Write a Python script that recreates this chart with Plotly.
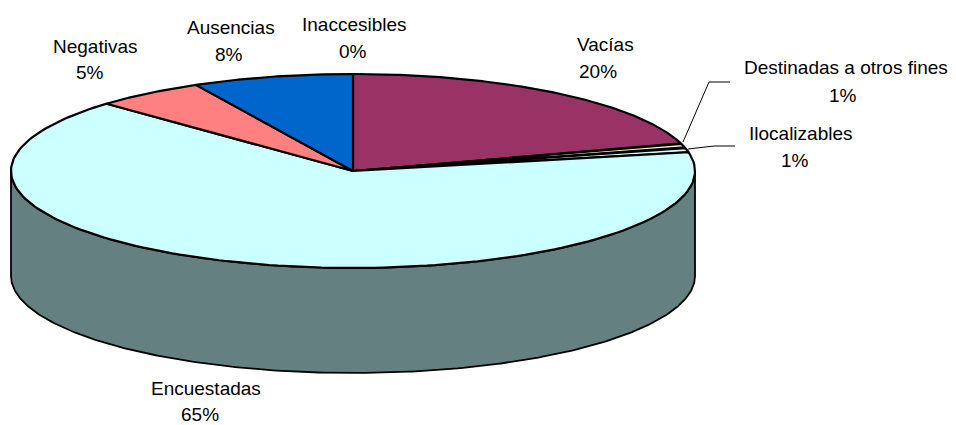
import numpy as np
import plotly.graph_objects as go

categories = ["Vacías", "Destinadas a otros fines", "Ilocalizables", "Encuestadas",
              "Negativas", "Ausencias", "Inaccesibles"]
values = [20.4, 0.7, 0.8, 65.3, 5.2, 7.6, 0.0]
colors = ["#993366", "#FFFFCC", "#CCFFFF", "#CCFFFF", "#FF8080", "#0066CC", "#FFFFFF"]
side_color = "#658080"

# label centres (pixel frame): name line, then percent line
name_pos = [(605, 44), (846, 67), (801, 133), (206, 388), (95, 46), (231, 27), (354, 24)]
pct_pos = [(598, 71), (843, 95), (795, 160), (200, 414), (90, 72), (229, 54), (353, 51)]

CX, CY, RX, RY, DEPTH = 353, 171, 342, 97, 105
LW = 2.2


def arc(a0, a1, n=160):
    t = np.radians(np.linspace(a0, a1, n))
    return CX + RX * np.sin(t), CY - RY * np.cos(t)


fig = go.Figure()

# side wall: front half of the rim
xa, ya = arc(90, 270, 300)
fig.add_trace(go.Scatter(
    x=np.r_[xa, xa[::-1], xa[0]], y=np.r_[ya, ya[::-1] + DEPTH, ya[0]],
    mode="lines", fill="toself", fillcolor=side_color,
    line=dict(color="black", width=1.8), hoverinfo="skip"))

# top face
edges = 3.6 * np.r_[0, np.cumsum(values)]
for i, cat in enumerate(categories):
    if values[i] <= 0:
        continue
    xs, ys = arc(edges[i], edges[i + 1])
    fig.add_trace(go.Scatter(
        x=np.r_[CX, xs, CX], y=np.r_[CY, ys, CY], name=cat,
        mode="lines", fill="toself", fillcolor=colors[i],
        line=dict(color="black", width=LW), hoverinfo="skip"))

# leader lines
for lx, ly in [([683, 709, 730], [142, 82, 82]), ([688, 714, 735], [149, 146, 146])]:
    fig.add_trace(go.Scatter(x=lx, y=ly, mode="lines",
                             line=dict(color="black", width=1), hoverinfo="skip"))

for i, cat in enumerate(categories):
    for pos, txt in ((name_pos[i], cat), (pct_pos[i], f"{round(values[i])}%")):
        fig.add_annotation(x=pos[0], y=pos[1], text=txt, showarrow=False,
                           xanchor="center", yanchor="middle",
                           font=dict(family="Liberation Sans", size=19, color="black"))

fig.update_xaxes(range=[0, 956], visible=False)
fig.update_yaxes(range=[425, 0], visible=False)
fig.update_layout(width=956, height=425, margin=dict(l=0, r=0, t=0, b=0),
                  showlegend=False, paper_bgcolor="white", plot_bgcolor="white")
fig.write_html("out.html", config={"displayModeBar": False},
               post_script="document.body.style.margin='0';document.body.style.overflow='hidden';")
